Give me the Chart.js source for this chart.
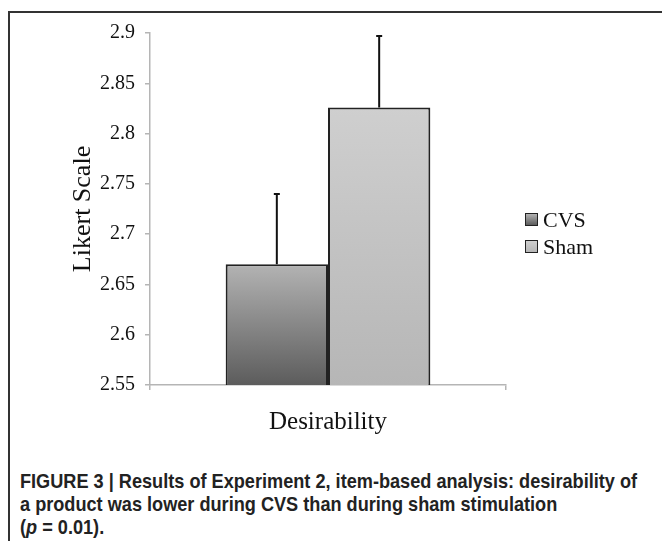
<!DOCTYPE html>
<html>
<head>
<meta charset="utf-8">
<script src="https://cdn.jsdelivr.net/npm/chart.js@4"></script>
<style>
  body { margin: 0; background: #fff; }
  #frame { position: absolute; left: 8px; top: 11px; width: 700px; height: 600px;
           border-left: 2px solid #333; border-top: 2px solid #333; }
  #wrap { position: absolute; left: 0; top: 0; width: 662px; height: 445px; }
  #legend { position: absolute; left: 525px; top: 206px; font-family: "Liberation Serif", serif;
            font-size: 22px; color: #111; }
  #legend div { height: 27px; line-height: 27px; white-space: nowrap; }
  #legend span.box { display: inline-block; width: 11px; height: 11px; border: 1.5px solid #222;
                     margin-right: 5px; vertical-align: 1px; }
  #caption { position: absolute; left: 20px; top: 469px; width: 740px; transform: scaleX(0.885);
             transform-origin: 0 0; font-family: "Liberation Sans", sans-serif;
             font-weight: bold; font-size: 20.5px; line-height: 23px; color: #222; }
</style>
</head>
<body>
<div id="frame"></div>
<div id="wrap"><canvas id="bar-chart" width="662" height="445"></canvas></div>
<div id="legend"></div>
<div id="caption">FIGURE 3 | Results of Experiment 2, item-based analysis: desirability of<br>a product was lower during CVS than during sham stimulation<br>(<i>p</i> = 0.01).</div>
<script>
// data
var categories = ["Desirability"];
var seriesNames = ["CVS", "Sham"];
var cvsValues = [2.67];
var shamValues = [2.826];
var cvsErr = [0.07];
var shamErr = [0.071];
var yTicks = [2.55, 2.6, 2.65, 2.7, 2.75, 2.8, 2.85, 2.9];

// gradient stops (top, bottom) per series
var fills = [["#b3b3b3", "#5c5c5c"], ["#cfcfcf", "#b6b6b6"]];

function barFill(i) {
  return function (ctx) {
    var chart = ctx.chart;
    if (!chart.chartArea) return fills[i][1];
    var y = chart.scales.y;
    var v = ctx.raw;
    var top = y.getPixelForValue(v), bottom = y.getPixelForValue(y.min);
    if (!isFinite(top) || bottom - top < 1) return fills[i][1];
    var g = chart.ctx.createLinearGradient(0, top, 0, bottom);
    g.addColorStop(0, fills[i][0]);
    g.addColorStop(1, fills[i][1]);
    return g;
  };
}

// upward-only error bars
var errorBars = {
  id: 'errorBars',
  afterDatasetsDraw: function (chart) {
    var c = chart.ctx, y = chart.scales.y;
    chart.data.datasets.forEach(function (ds, di) {
      var meta = chart.getDatasetMeta(di);
      meta.data.forEach(function (bar, j) {
        var v = ds.data[j], e = ds.err[j];
        var y0 = y.getPixelForValue(v), y1 = y.getPixelForValue(v + e);
        c.save();
        c.strokeStyle = "#111";
        c.lineWidth = 2;
        c.beginPath();
        c.moveTo(bar.x, y0);
        c.lineTo(bar.x, y1);
        c.moveTo(bar.x - 3, y1);
        c.lineTo(bar.x + 3, y1);
        c.stroke();
        c.restore();
      });
    });
  }
};

var chart = new Chart(document.getElementById("bar-chart"), {
  type: 'bar',
  data: {
    labels: categories,
    datasets: [
      { label: seriesNames[0], data: cvsValues, err: cvsErr, backgroundColor: barFill(0),
        borderColor: "#222", borderWidth: 2, borderSkipped: false },
      { label: seriesNames[1], data: shamValues, err: shamErr, backgroundColor: barFill(1),
        borderColor: "#222", borderWidth: 2, borderSkipped: false }
    ]
  },
  options: {
    responsive: false,
    animation: false,
    layout: { padding: { top: 33, right: 156, left: 0, bottom: 0 } },
    datasets: { bar: { categoryPercentage: 0.575, barPercentage: 1 } },
    plugins: { legend: { display: false }, tooltip: { enabled: false } },
    scales: {
      x: {
        grid: { drawOnChartArea: false, tickLength: 5, color: "#b5b5b5", lineWidth: 1.5 },
        border: { color: "#b5b5b5", width: 1.5 },
        ticks: { color: "#111", padding: 17, font: { family: "Liberation Serif", size: 25 } },
        afterFit: function (s) { s.height = 60; }
      },
      y: {
        min: 2.55, max: 2.9,
        afterBuildTicks: function (s) { s.ticks = yTicks.map(function (v) { return { value: v }; }); },
        grid: { drawOnChartArea: false, tickLength: 5, color: "#b5b5b5", lineWidth: 1.5 },
        border: { color: "#b5b5b5", width: 1.5 },
        ticks: { color: "#111", padding: 10, font: { family: "Liberation Serif", size: 20 },
                 callback: function (v) { return String(+v.toFixed(2)); } },
        title: { display: true, text: "Likert Scale", color: "#111", padding: { top: 68 },
                 font: { family: "Liberation Serif", size: 26 } },
        afterFit: function (s) { s.width = 150; }
      }
    }
  },
  plugins: [errorBars]
});

// legend built from the series
var lg = document.getElementById("legend");
seriesNames.forEach(function (name, i) {
  var row = document.createElement("div");
  var box = document.createElement("span");
  box.className = "box";
  box.style.background = "linear-gradient(" + fills[i][0] + "," + fills[i][1] + ")";
  row.appendChild(box);
  row.appendChild(document.createTextNode(name));
  lg.appendChild(row);
});
</script>
</body>
</html>
